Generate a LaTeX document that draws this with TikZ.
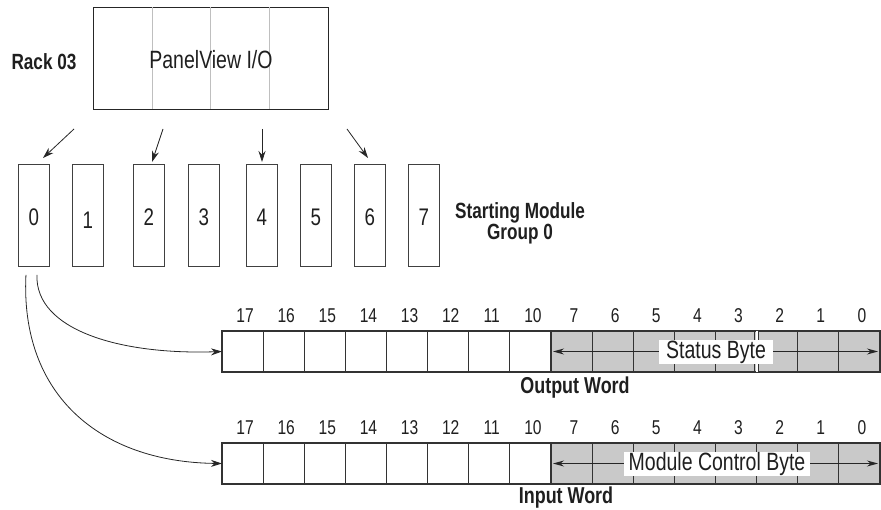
\documentclass[tikz,border=0pt]{standalone}
\usepackage{fontspec}
\setmainfont[FakeStretch=0.78]{Liberation Sans}
\usetikzlibrary{arrows.meta}
\begin{document}
\begin{tikzpicture}[x=1pt,y=-1pt,
  txt/.style={text=black!88,inner sep=0pt},
  modbox/.style={draw=black!75,line width=0.9pt,minimum width=31pt,minimum height=102pt,inner sep=0pt,anchor=north west},
  cell/.style={draw=black!80,line width=1.2pt,minimum width=41.125pt,minimum height=41pt,inner sep=0pt,outer sep=0pt},
  shaded/.style={cell,fill=black!21},
  bitnum/.style={txt,font=\fontsize{20}{20}\selectfont},
  boldlbl/.style={txt,font=\fontsize{22}{21}\selectfont\bfseries,align=center},
  arr/.style={-{Stealth[length=11pt,width=7pt]},line width=0.8pt,black!85},
  bytearr/.style={{Stealth[length=11pt,width=6pt]}-{Stealth[length=11pt,width=6pt]},line width=1pt,black!85}
]
\useasboundingbox (0,0) rectangle (881,510);

% Panel
\node[draw=black!85,line width=0.9pt,minimum width=235pt,minimum height=102pt,inner sep=0pt,anchor=north west] (panel) at (93,7) {};
\foreach \xx in {152,210,269} \draw[black!25,line width=0.7pt] (\xx,7) -- (\xx,109);
\node[txt,font=\fontsize{25}{25}\selectfont] (pvtext) at (211,60) {PanelView I/O};
\node[boldlbl] (rack) at (44,62) {Rack 03};

% Modules
\foreach \n/\xx in {0/18,1/72,2/133,3/188,4/246,5/300,6/354,7/408}
  \node[modbox] (m\n) at (\xx,164) {};
\foreach \n in {0,2,3,4,5,6,7}
  \node[txt,font=\fontsize{24}{24}\selectfont] (ml\n) at ([yshift=-53pt]m\n.north) {\n};
\node[txt,font=\fontsize{24}{24}\selectfont] (ml1) at ([yshift=-56pt]m1.north) {1};
\node[boldlbl,font=\fontsize{22}{20}\selectfont\bfseries] (smg) at (520,223) {Starting Module\\Group 0};

% Arrows from panel
\coordinate (a0s) at (74,129);  \coordinate (a0e) at (43,158);
\coordinate (a2s) at (163,129); \coordinate (a2e) at (152,162);
\coordinate (a4s) at (262,129); \coordinate (a4e) at (262,162);
\coordinate (a6s) at (347,129); \coordinate (a6e) at (368,158);
\foreach \k in {0,2,4,6} \draw[arr] (a\k s) -- (a\k e);

% Word rows
\foreach \i/\t in {0/17,1/16,2/15,3/14,4/13,5/12,6/11,7/10,8/7,9/6,10/5,11/4,12/3,13/2,14/1,15/0}{
  \pgfmathsetmacro{\cx}{222+41.125*\i+20.5625}
  \ifnum\i<8
    \node[cell] (o\i) at (\cx,351.5) {};
    \node[cell] (i\i) at (\cx,463.5) {};
  \else
    \node[shaded] (o\i) at (\cx,351.5) {};
    \node[shaded] (i\i) at (\cx,463.5) {};
  \fi
  \node[bitnum] (ol\i) at (\cx+2.5,316) {\t};
  \node[bitnum] (il\i) at (\cx+2.5,428) {\t};
}
% split line between bits 3 and 2 of the output word
\draw[white,line width=2.2pt] (o12.north east) -- (o12.south east);
\draw[black!80,line width=1.1pt] ([xshift=-1.8pt]o12.north east) -- ([xshift=-1.8pt]o12.south east);
\draw[black!80,line width=1.1pt] ([xshift=1.8pt]o12.north east) -- ([xshift=1.8pt]o12.south east);

% Byte arrows and labels
\coordinate (sbl) at (553,351.5); \coordinate (sbr) at (878,351.5);
\draw[bytearr] (sbl) -- (sbr);
\node[txt,fill=white,inner xsep=7pt,minimum height=24pt,font=\fontsize{25}{25}\selectfont] (sb) at (716,352) {Status Byte};
\coordinate (mbl) at (553,463.5); \coordinate (mbr) at (878,463.5);
\draw[bytearr] (mbl) -- (mbr);
\node[txt,fill=white,inner xsep=5pt,minimum height=24pt,font=\fontsize{25}{25}\selectfont] (mcb) at (717,464) {Module Control Byte};

\node[boldlbl,font=\fontsize{23}{23}\selectfont\bfseries] (ow) at (575,388) {Output Word};
\node[boldlbl,font=\fontsize{23}{23}\selectfont\bfseries] (iw) at (566,498) {Input Word};

% Curved connectors
\draw[arr] ([xshift=3pt,yshift=-8pt]m0.south) .. controls (35,330) and (120,355) .. (o0.west);
\draw[arr] ([xshift=-8pt,yshift=-8pt]m0.south) .. controls (20,395) and (100,462) .. (i0.west);
\end{tikzpicture}
\end{document}
